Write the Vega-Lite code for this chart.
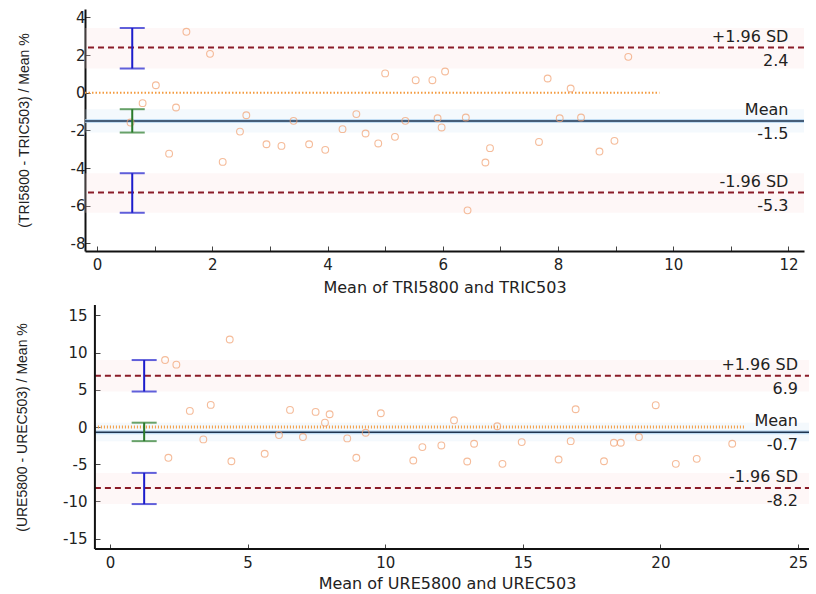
{
  "$schema": "https://vega.github.io/schema/vega-lite/v6.json",
  "background": "white",
  "padding": {"left": 15, "top": 9, "right": 4, "bottom": 2},
  "columns": 1,
  "spacing": 9,
  "datasets": {
    "topPoints": [
      {"m": 1.55, "d": 3.24}, {"m": 1.96, "d": 2.07}, {"m": 1.02, "d": 0.4}, {"m": 0.79, "d": -0.55},
      {"m": 1.37, "d": -0.78}, {"m": 0.58, "d": -1.58}, {"m": 2.59, "d": -1.19}, {"m": 3.41, "d": -1.49},
      {"m": 2.48, "d": -2.06}, {"m": 2.94, "d": -2.73}, {"m": 3.2, "d": -2.82}, {"m": 3.68, "d": -2.73},
      {"m": 3.96, "d": -3.03}, {"m": 1.25, "d": -3.23}, {"m": 2.18, "d": -3.67}, {"m": 5.0, "d": 1.03},
      {"m": 5.53, "d": 0.67}, {"m": 5.82, "d": 0.67}, {"m": 6.04, "d": 1.13}, {"m": 7.82, "d": 0.76},
      {"m": 4.5, "d": -1.13}, {"m": 4.26, "d": -1.93}, {"m": 4.66, "d": -2.16}, {"m": 4.88, "d": -2.69},
      {"m": 5.17, "d": -2.34}, {"m": 5.35, "d": -1.49}, {"m": 5.91, "d": -1.35}, {"m": 5.98, "d": -1.84},
      {"m": 6.4, "d": -1.31}, {"m": 6.82, "d": -2.94}, {"m": 6.74, "d": -3.7}, {"m": 7.67, "d": -2.61},
      {"m": 6.43, "d": -6.24}, {"m": 8.03, "d": -1.35}, {"m": 8.4, "d": -1.31}, {"m": 9.22, "d": 1.91},
      {"m": 8.22, "d": 0.23}, {"m": 8.98, "d": -2.55}, {"m": 8.72, "d": -3.12}
    ],
    "bottomPoints": [
      {"m": 2.0, "d": 9.0}, {"m": 2.41, "d": 8.38}, {"m": 4.35, "d": 11.76}, {"m": 2.9, "d": 2.16},
      {"m": 3.66, "d": 2.97}, {"m": 6.54, "d": 2.3}, {"m": 7.47, "d": 2.03}, {"m": 7.98, "d": 1.71},
      {"m": 7.81, "d": 0.58}, {"m": 3.39, "d": -1.67}, {"m": 6.14, "d": -1.08}, {"m": 7.01, "d": -1.35},
      {"m": 2.12, "d": -4.14}, {"m": 4.41, "d": -4.6}, {"m": 5.62, "d": -3.6}, {"m": 9.84, "d": 1.85},
      {"m": 12.5, "d": 0.9}, {"m": 14.07, "d": 0.1}, {"m": 8.62, "d": -1.53}, {"m": 9.29, "d": -0.77},
      {"m": 8.95, "d": -4.14}, {"m": 11.35, "d": -2.7}, {"m": 12.04, "d": -2.48}, {"m": 13.23, "d": -2.25},
      {"m": 14.96, "d": -2.03}, {"m": 11.02, "d": -4.5}, {"m": 12.98, "d": -4.64}, {"m": 14.26, "d": -4.95},
      {"m": 16.3, "d": -4.37}, {"m": 16.74, "d": -1.9}, {"m": 16.92, "d": 2.39}, {"m": 19.83, "d": 2.93},
      {"m": 18.31, "d": -2.12}, {"m": 18.56, "d": -2.12}, {"m": 19.22, "d": -1.35}, {"m": 22.61, "d": -2.25},
      {"m": 17.95, "d": -4.6}, {"m": 20.56, "d": -4.95}, {"m": 21.32, "d": -4.28}
    ],
    "topLines": [
      {"name": "+1.96 SD", "value": 2.4, "kind": "limit", "lo": 1.29, "hi": 3.44},
      {"name": "Mean", "value": -1.5, "kind": "mean", "lo": -0.87, "hi": -2.11},
      {"name": "-1.96 SD", "value": -5.3, "kind": "limit", "lo": -4.27, "hi": -6.37}
    ],
    "bottomLines": [
      {"name": "+1.96 SD", "value": 6.9, "kind": "limit", "lo": 4.77, "hi": 9.0},
      {"name": "Mean", "value": -0.7, "kind": "mean", "lo": 0.58, "hi": -1.9},
      {"name": "-1.96 SD", "value": -8.2, "kind": "limit", "lo": -6.17, "hi": -10.36}
    ]
  },
  "concat": [
    {
      "width": 719,
      "height": 242,
      "layer": [
        {
          "data": {"name": "topLines"},
          "mark": {"type": "rect", "opacity": 0.22},
          "encoding": {
            "y": {"field": "lo", "type": "quantitative", "scale": {"domain": [-8.4, 4.45], "nice": false, "zero": false},
              "axis": {"title": "(TRI5800 - TRIC503) / Mean %", "titleFont": "Liberation Sans", "titleFontSize": 14, "titlePadding": 39, "labelPadding": 5,
                "values": [-8, -7, -6, -5, -4, -3, -2, -1, 0, 1, 2, 3, 4],
                "labelExpr": "datum.value % 2 === 0 ? '' + datum.value : ''"}},
            "y2": {"field": "hi"},
            "color": {"condition": {"test": "datum.kind === 'mean'", "value": "#cfe4f6"}, "value": "#fbdada"}
          }
        },
        {
          "data": {"name": "topLines"},
          "transform": [{"filter": "datum.kind === 'mean'"}],
          "mark": {"type": "rule", "color": "#f39a3e", "strokeWidth": 2, "strokeDash": [1.5, 2]},
          "encoding": {
            "x": {"datum": -0.21, "type": "quantitative", "scale": {"domain": [-0.21, 12.27], "nice": false, "zero": false},
              "axis": {"title": "Mean of TRI5800 and TRIC503", "titlePadding": 7, "labelPadding": 11,
                "values": [0, 1, 2, 3, 4, 5, 6, 7, 8, 9, 10, 11, 12],
                "labelExpr": "datum.value % 2 === 0 ? '' + datum.value : ''"}},
            "x2": {"datum": 9.76},
            "y": {"datum": 0, "type": "quantitative"}
          }
        },
        {
          "data": {"name": "topLines"},
          "transform": [{"filter": "datum.kind === 'mean'"}],
          "mark": {"type": "rule", "color": "#a9d0ee", "strokeWidth": 4, "opacity": 0.7},
          "encoding": {"y": {"field": "value", "type": "quantitative"}}
        },
        {
          "data": {"name": "topLines"},
          "transform": [{"filter": "datum.kind === 'mean'"}],
          "mark": {"type": "rule", "color": "#1e3550", "strokeWidth": 1.4},
          "encoding": {"y": {"field": "value", "type": "quantitative"}}
        },
        {
          "data": {"name": "topLines"},
          "transform": [{"filter": "datum.kind === 'limit'"}],
          "mark": {"type": "rule", "color": "#8a1c28", "strokeWidth": 2, "strokeDash": [6, 4]},
          "encoding": {"y": {"field": "value", "type": "quantitative"}}
        },
        {
          "data": {"name": "topPoints"},
          "mark": {"type": "point", "shape": "circle", "filled": false, "color": "#f2a070", "size": 46, "strokeWidth": 1.1},
          "encoding": {
            "x": {"field": "m", "type": "quantitative"},
            "y": {"field": "d", "type": "quantitative"}
          }
        },
        {
          "data": {"name": "topLines"},
          "mark": {"type": "rule", "strokeWidth": 2},
          "encoding": {
            "x": {"datum": 0.61, "type": "quantitative"},
            "y": {"field": "lo", "type": "quantitative"},
            "y2": {"field": "hi"},
            "color": {"condition": {"test": "datum.kind === 'mean'", "value": "#2a7a2a"}, "value": "#1c1ccc"}
          }
        },
        {
          "data": {"name": "topLines"},
          "mark": {"type": "tick", "orient": "horizontal", "size": 25, "thickness": 2},
          "encoding": {
            "x": {"datum": 0.61, "type": "quantitative"},
            "y": {"field": "lo", "type": "quantitative"},
            "color": {"condition": {"test": "datum.kind === 'mean'", "value": "#2a7a2a"}, "value": "#1c1ccc"}
          }
        },
        {
          "data": {"name": "topLines"},
          "mark": {"type": "tick", "orient": "horizontal", "size": 25, "thickness": 2},
          "encoding": {
            "x": {"datum": 0.61, "type": "quantitative"},
            "y": {"field": "hi", "type": "quantitative"},
            "color": {"condition": {"test": "datum.kind === 'mean'", "value": "#2a7a2a"}, "value": "#1c1ccc"}
          }
        },
        {
          "data": {"name": "topLines"},
          "mark": {"type": "text", "align": "right", "baseline": "bottom", "dy": -3, "font": "DejaVu Sans", "fontSize": 16, "color": "#222"},
          "encoding": {
            "x": {"datum": 12, "type": "quantitative"},
            "y": {"field": "value", "type": "quantitative"},
            "text": {"field": "name", "type": "nominal"}
          }
        },
        {
          "data": {"name": "topLines"},
          "mark": {"type": "text", "align": "right", "baseline": "top", "dy": 5, "font": "DejaVu Sans", "fontSize": 16, "color": "#222"},
          "encoding": {
            "x": {"datum": 12, "type": "quantitative"},
            "y": {"field": "value", "type": "quantitative"},
            "text": {"field": "value", "type": "nominal"}
          }
        }
      ]
    },
    {
      "width": 724,
      "height": 244,
      "layer": [
        {
          "data": {"name": "bottomLines"},
          "mark": {"type": "rect", "opacity": 0.22},
          "encoding": {
            "x": {"datum": -0.55, "type": "quantitative", "scale": {"domain": [-0.91, 25.4], "nice": false, "zero": false},
              "axis": {"title": "Mean of URE5800 and UREC503", "titlePadding": 5, "labelPadding": 11, "domain": false,
                "values": [0, 5, 10, 15, 20, 25],
                "labelExpr": "'' + datum.value"}},
            "x2": {"datum": 25.4},
            "y": {"field": "lo", "type": "quantitative", "scale": {"domain": [-16.4, 16.4], "nice": false, "zero": false},
              "axis": {"title": "(URE5800 - UREC503) / Mean %", "titleFont": "Liberation Sans", "titleFontSize": 14, "titlePadding": 33, "labelPadding": 13, "offset": -10, "domain": false,
                "values": [-15, -10, -5, 0, 5, 10, 15],
                "labelExpr": "'' + datum.value"}},
            "y2": {"field": "hi"},
            "color": {"condition": {"test": "datum.kind === 'mean'", "value": "#cfe4f6"}, "value": "#fbdada"}
          }
        },
        {
          "data": {"name": "bottomLines"},
          "transform": [{"filter": "datum.kind === 'mean'"}],
          "mark": {"type": "rule", "color": "#f39a3e", "strokeWidth": 3, "strokeDash": [1, 2]},
          "encoding": {
            "x": {"datum": -0.55, "type": "quantitative"},
            "x2": {"datum": 23.1},
            "y": {"datum": 0, "type": "quantitative"}
          }
        },
        {
          "data": {"name": "bottomLines"},
          "transform": [{"filter": "datum.kind === 'mean'"}],
          "mark": {"type": "rule", "color": "#a9d0ee", "strokeWidth": 4, "opacity": 0.7},
          "encoding": {"x": {"datum": -0.55, "type": "quantitative"}, "x2": {"datum": 25.4}, "y": {"field": "value", "type": "quantitative"}}
        },
        {
          "data": {"name": "bottomLines"},
          "transform": [{"filter": "datum.kind === 'mean'"}],
          "mark": {"type": "rule", "color": "#1e3550", "strokeWidth": 1.4},
          "encoding": {"x": {"datum": -0.55, "type": "quantitative"}, "x2": {"datum": 25.4}, "y": {"field": "value", "type": "quantitative"}}
        },
        {
          "data": {"name": "bottomLines"},
          "transform": [{"filter": "datum.kind === 'limit'"}],
          "mark": {"type": "rule", "color": "#8a1c28", "strokeWidth": 2, "strokeDash": [6, 4]},
          "encoding": {"x": {"datum": -0.55, "type": "quantitative"}, "x2": {"datum": 25.4}, "y": {"field": "value", "type": "quantitative"}}
        },
        {
          "data": {"name": "bottomLines"},
          "transform": [{"filter": "datum.kind === 'mean'"}],
          "mark": {"type": "rule", "color": "#111", "strokeWidth": 2},
          "encoding": {"x": {"datum": -0.55, "type": "quantitative"}, "y": {"datum": -16.4, "type": "quantitative"}, "y2": {"datum": 16.4}}
        },
        {
          "data": {"name": "bottomLines"},
          "transform": [{"filter": "datum.kind === 'mean'"}],
          "mark": {"type": "rule", "color": "#111", "strokeWidth": 2},
          "encoding": {"x": {"datum": -0.55, "type": "quantitative"}, "x2": {"datum": 25.4}, "y": {"datum": -16.4, "type": "quantitative"}}
        },
        {
          "data": {"name": "bottomPoints"},
          "mark": {"type": "point", "shape": "circle", "filled": false, "color": "#f2a070", "size": 46, "strokeWidth": 1.1},
          "encoding": {
            "x": {"field": "m", "type": "quantitative"},
            "y": {"field": "d", "type": "quantitative"}
          }
        },
        {
          "data": {"name": "bottomLines"},
          "mark": {"type": "rule", "strokeWidth": 2},
          "encoding": {
            "x": {"datum": 1.24, "type": "quantitative"},
            "y": {"field": "lo", "type": "quantitative"},
            "y2": {"field": "hi"},
            "color": {"condition": {"test": "datum.kind === 'mean'", "value": "#2a7a2a"}, "value": "#1c1ccc"}
          }
        },
        {
          "data": {"name": "bottomLines"},
          "mark": {"type": "tick", "orient": "horizontal", "size": 25, "thickness": 2},
          "encoding": {
            "x": {"datum": 1.24, "type": "quantitative"},
            "y": {"field": "lo", "type": "quantitative"},
            "color": {"condition": {"test": "datum.kind === 'mean'", "value": "#2a7a2a"}, "value": "#1c1ccc"}
          }
        },
        {
          "data": {"name": "bottomLines"},
          "mark": {"type": "tick", "orient": "horizontal", "size": 25, "thickness": 2},
          "encoding": {
            "x": {"datum": 1.24, "type": "quantitative"},
            "y": {"field": "hi", "type": "quantitative"},
            "color": {"condition": {"test": "datum.kind === 'mean'", "value": "#2a7a2a"}, "value": "#1c1ccc"}
          }
        },
        {
          "data": {"name": "bottomLines"},
          "mark": {"type": "text", "align": "right", "baseline": "bottom", "dy": -3, "font": "DejaVu Sans", "fontSize": 16, "color": "#222"},
          "encoding": {
            "x": {"datum": 25, "type": "quantitative"},
            "y": {"field": "value", "type": "quantitative"},
            "text": {"field": "name", "type": "nominal"}
          }
        },
        {
          "data": {"name": "bottomLines"},
          "mark": {"type": "text", "align": "right", "baseline": "top", "dy": 5, "font": "DejaVu Sans", "fontSize": 16, "color": "#222"},
          "encoding": {
            "x": {"datum": 25, "type": "quantitative"},
            "y": {"field": "value", "type": "quantitative"},
            "text": {"field": "value", "type": "nominal"}
          }
        }
      ]
    }
  ],
  "config": {
    "view": {"stroke": null},
    "axis": {
      "grid": false,
      "domainColor": "#111",
      "domainWidth": 2,
      "tickColor": "#444",
      "tickSize": -5,
      "tickWidth": 1,
      "labelFont": "DejaVu Sans",
      "labelFontSize": 15,
      "labelColor": "#222",
      "titleFont": "DejaVu Sans",
      "titleFontSize": 16,
      "titleFontWeight": "normal",
      "titleColor": "#222",
      "labelFlush": false,
      "labelOverlap": false
    }
  }
}
